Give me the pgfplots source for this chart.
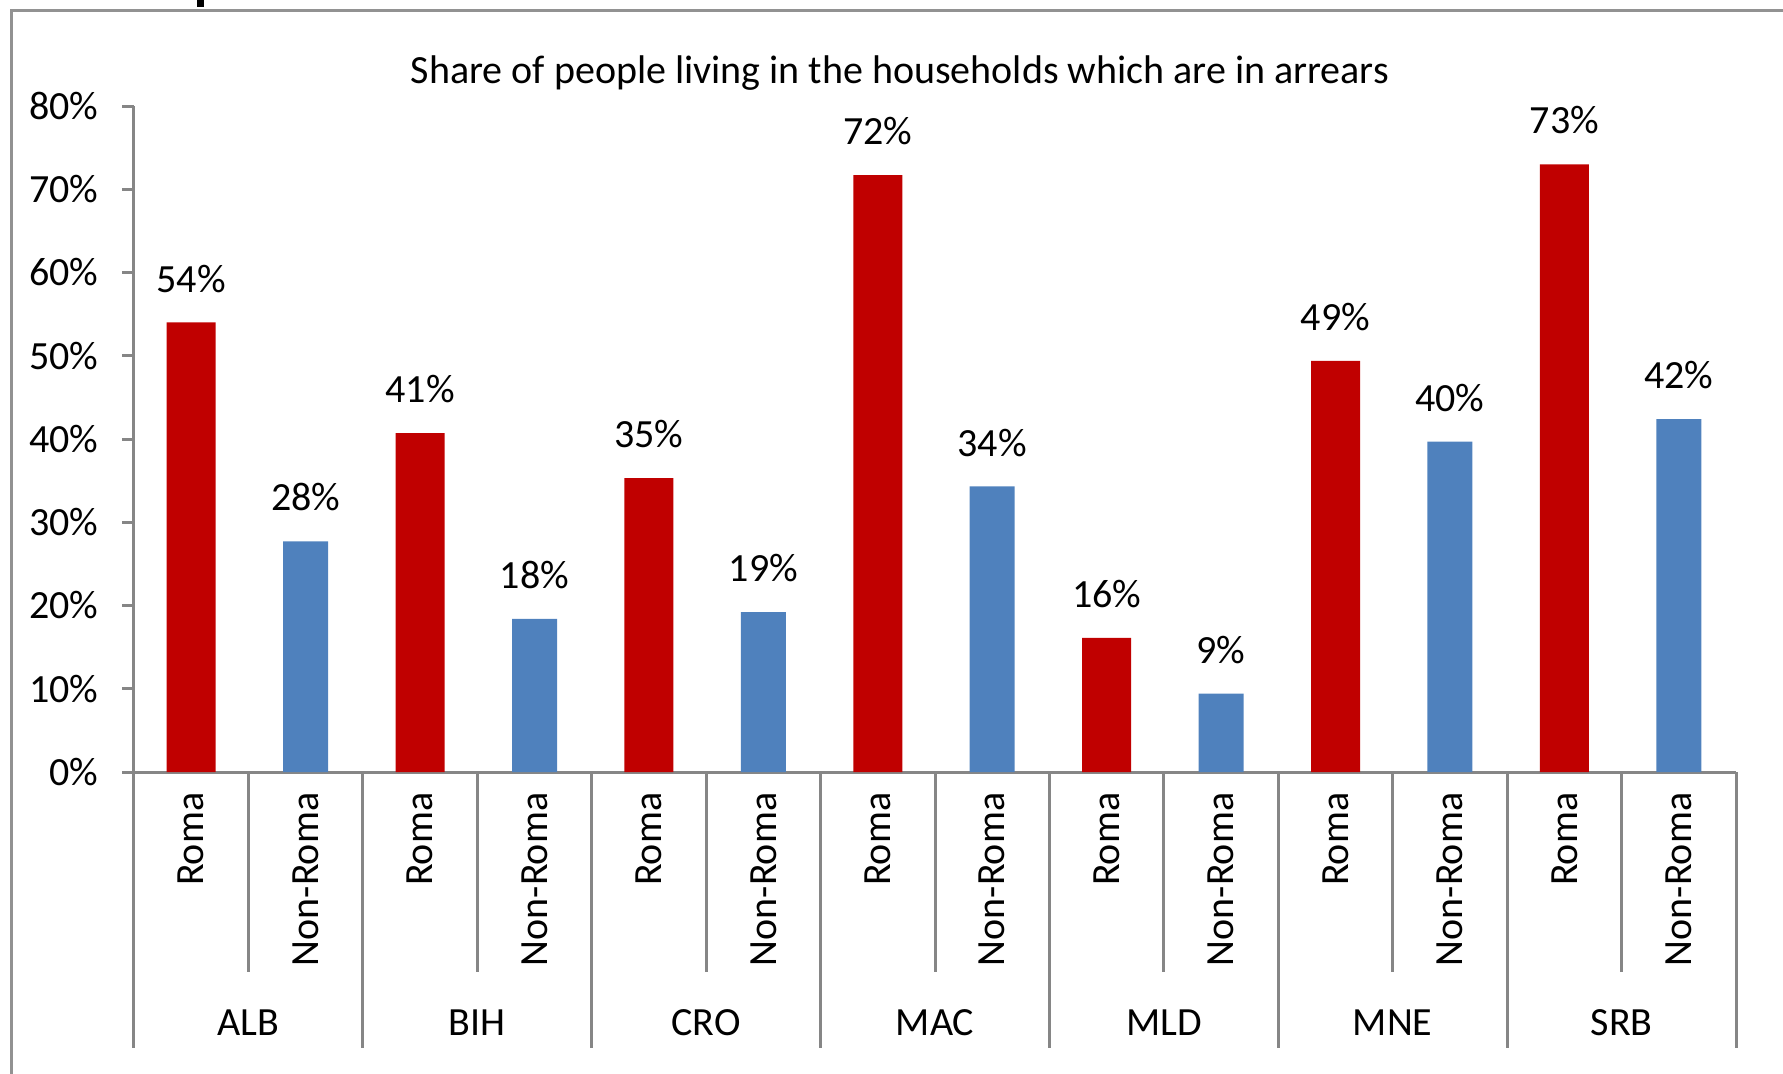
\documentclass[border=0pt]{standalone}
\usepackage{fontspec}
\setmainfont{Carlito}
\usepackage{pgfplots}
\pgfplotsset{compat=1.18}
\definecolor{romared}{HTML}{C00000}
\definecolor{nonblue}{HTML}{4F81BD}
\definecolor{axgray}{HTML}{868686}

\begin{document}
\begin{tikzpicture}
\useasboundingbox (0,0) rectangle (713.2pt,429.2pt);
% outer chart frame (cut off at right and bottom)
\draw[axgray!90, line width=1.2pt] (4.4pt,-2pt) -- (4.4pt,424.8pt) -- (716pt,424.8pt);
\fill[black] (78.8pt,426.4pt) rectangle (81.6pt,431pt);
\node[font=\fontsize{16}{19}\selectfont] at (360pt,399.8pt)
  {Share of people living in the households which are in arrears};
\begin{axis}[
    at={(53.6pt,120.4pt)}, anchor=south west,
    scale only axis,
    width=640.8pt, height=266.4pt,
    xmin=-0.5, xmax=13.5,
    ymin=0, ymax=80,
    clip=false,
    axis x line*=bottom, axis y line*=left,
    axis line style={axgray, line width=1.2pt, -},
    tick align=outside,
    major tick length=4.8pt,
    ytick={0,10,...,80},
    yticklabel={\pgfmathprintnumber{\tick}\%},
    y tick style={axgray, line width=1.2pt},
    yticklabel style={font=\fontsize{16}{19}\selectfont, xshift=-6pt},
    xtick={0,...,13},
    x tick style={draw=none},
    xticklabels={Roma,Non-Roma,Roma,Non-Roma,Roma,Non-Roma,Roma,Non-Roma,
                 Roma,Non-Roma,Roma,Non-Roma,Roma,Non-Roma},
    xticklabel style={rotate=90, anchor=east, font=\fontsize{16}{19}\selectfont},
    /pgf/number format/assume math mode=true,
    ybar, bar shift=0pt,
    nodes near coords={\pgfmathprintnumber[fixed,precision=0]{\pgfplotspointmeta}\%},
    nodes near coords style={font=\fontsize{16}{19}\selectfont, black, yshift=8.5pt,
                             /pgf/number format/assume math mode=true},
]
% Roma
\addplot[fill=romared, draw=none, bar width=19.6pt] coordinates {
    (0,54.0)(2,40.7)(4,35.3)(6,71.7)(8,16.1)(10,49.4)(12,73.0)
};
% Non-Roma
\addplot[fill=nonblue, draw=none, bar width=18pt] coordinates {
    (1,27.7)(3,18.4)(5,19.2)(7,34.3)(9,9.4)(11,39.7)(13,42.4)
};
% category separators below the axis
\pgfplotsinvokeforeach{-0.5,1.5,3.5,5.5,7.5,9.5,11.5,13.5}{
    \draw[axgray, line width=1.2pt] (axis cs:#1,0) -- ([yshift=-110.4pt]axis cs:#1,0);
}
\pgfplotsinvokeforeach{0.5,2.5,4.5,6.5,8.5,10.5,12.5}{
    \draw[axgray, line width=1.2pt] (axis cs:#1,0) -- ([yshift=-80pt]axis cs:#1,0);
}
% country names
\node[font=\fontsize{16}{19}\selectfont] at ([yshift=-100.4pt]axis cs:0.5,0) {ALB};
\node[font=\fontsize{16}{19}\selectfont] at ([yshift=-100.4pt]axis cs:2.5,0) {BIH};
\node[font=\fontsize{16}{19}\selectfont] at ([yshift=-100.4pt]axis cs:4.5,0) {CRO};
\node[font=\fontsize{16}{19}\selectfont] at ([yshift=-100.4pt]axis cs:6.5,0) {MAC};
\node[font=\fontsize{16}{19}\selectfont] at ([yshift=-100.4pt]axis cs:8.5,0) {MLD};
\node[font=\fontsize{16}{19}\selectfont] at ([yshift=-100.4pt]axis cs:10.5,0) {MNE};
\node[font=\fontsize{16}{19}\selectfont] at ([yshift=-100.4pt]axis cs:12.5,0) {SRB};
\end{axis}
\end{tikzpicture}
\end{document}
